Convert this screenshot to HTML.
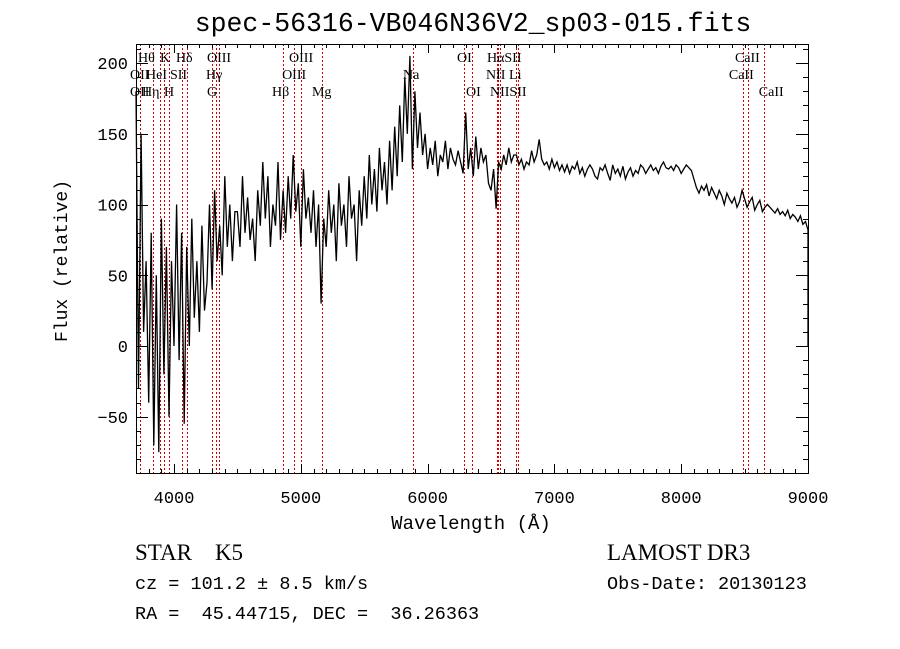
<!DOCTYPE html>
<html><head><meta charset="utf-8"><style>
body{margin:0;background:#fff;}
svg{display:block;}
text{fill:#000;white-space:pre;}
.mono{font-family:"Liberation Mono",monospace;}
.serif{font-family:"Liberation Serif",serif;}
</style></head><body>
<svg id="chart" width="900" height="649" viewBox="0 0 900 649" xmlns="http://www.w3.org/2000/svg">
<rect x="0" y="0" width="900" height="649" fill="#fff"/>
<text class="mono" x="473" y="31" font-size="26.5" text-anchor="middle">spec-56316-VB046N36V2_sp03-015.fits</text>
<g id="lines"></g>
<g id="labels"></g>
<g id="series"></g>
<g id="axes"></g>
<text class="mono" x="471" y="529" font-size="19" text-anchor="middle">Wavelength (Å)</text>
<text class="mono" x="0" y="0" font-size="18" text-anchor="middle" transform="translate(67,261) rotate(-90)">Flux (relative)</text>
<text class="serif" x="135" y="560" font-size="23">STAR    K5</text>
<text class="serif" x="607" y="560" font-size="23">LAMOST DR3</text>
<text class="mono" x="135" y="589" font-size="18.5">cz = 101.2 ± 8.5 km/s</text>
<text class="mono" x="607" y="589" font-size="18.5">Obs-Date: 20130123</text>
<text class="mono" x="135" y="619" font-size="18.5">RA =  45.44715, DEC =  36.26363</text>
</svg>
<script>
const xTicks=[4000,5000,6000,7000,8000,9000];
const yTicks=[-50,0,50,100,150,200];
const waveStart=3700, waveStep=20;
const flux=[
180,-30,150,10,60,-40,80,-70,50,-75,
90,-20,70,-50,60,0,100,-10,80,-55,
70,0,90,20,60,10,85,25,45,100,
40,110,60,85,50,120,70,100,60,95,
95,70,120,80,105,75,90,60,110,85,
130,90,120,70,100,85,130,75,110,80,
120,90,135,95,115,70,125,90,105,80,
110,70,100,30,90,70,110,80,100,60,
115,85,100,70,120,90,100,60,110,85,
120,90,135,100,125,95,140,110,130,100,
145,110,155,120,170,130,190,150,205,125,
180,140,165,135,150,125,140,128,145,120,
135,130,145,125,140,132,128,138,130,122,
165,125,140,120,148,125,140,130,135,115,
110,125,97,130,125,135,128,140,130,135,
135,128,132,125,130,128,138,130,135,146,
132,128,130,125,132,126,130,124,128,123,
128,122,127,125,130,122,126,120,125,128,
125,120,118,126,124,128,122,117,128,122,
125,120,127,118,123,126,120,124,122,128,
126,122,125,128,124,126,122,127,130,126,
125,127,124,128,126,122,125,128,126,124,
118,112,108,113,110,114,106,112,108,104,
110,106,100,108,104,101,105,98,102,110,
104,98,102,105,96,100,103,95,98,100,
98,96,94,97,93,95,92,96,90,93,
91,88,92,86,88,82];
const lineWaves=[3732,3832,3889,3921,3960,4063,4100,4297,4331,4357,4857,4948,4999,5169,5887,6289,6352,6545,6559,6571,6697,6710,8490,8530,8655];
const labelNames=["Hθ","K","Hδ","OIII","OIII","OI","HαSII","CaII","OII","HeI","SII","Hγ","OIII","Na","NII","Li","CaII","OII","Hη","H","G","Hβ","Mg","OI","NIISII","CaII"];
const labelWaves=[3716,3889,4015,4260,4907,6232,6468,8424,3653,3779,3968,4252,4852,5806,6460,6642,8376,3653,3747,3921,4260,4773,5088,6303,6492,8612];
const labelRows=[0,0,0,0,0,0,0,0,1,1,1,1,1,1,1,1,1,2,2,2,2,2,2,2,2,2];

const X0=136,X1=808,Y0=44,Y1=473;
const xs=w=>X0+(w-3700)*(X1-X0)/(9000-3700);
const ys=f=>346-f*1.415;
const NS="http://www.w3.org/2000/svg";
function mk(tag,attrs,parent){const e=document.createElementNS(NS,tag);for(const k in attrs)e.setAttribute(k,attrs[k]);parent.appendChild(e);return e;}
const gL=document.getElementById('lines'),gLab=document.getElementById('labels'),gS=document.getElementById('series'),gA=document.getElementById('axes');

lineWaves.forEach(w=>{
  const x=Math.round(xs(w))+0.5;
  const l=mk('line',{x1:x,x2:x,y1:Y0,y2:Y1,stroke:'#cc0000','stroke-width':1,'stroke-dasharray':'2,2','shape-rendering':'crispEdges'},gL);
  
  
});
const rowY=[62,79,96];
labelNames.forEach((n,i)=>{
  const t=mk('text',{x:xs(labelWaves[i]),y:rowY[labelRows[i]],'font-size':14,'class':'serif'},gLab);
  t.textContent=n;
  
  
});

let d='';
flux.forEach((f,i)=>{const w=waveStart+i*waveStep;d+=(i?'L':'M')+xs(w).toFixed(1)+','+ys(f).toFixed(1)+' ';});
d+='L'+xs(9000).toFixed(1)+','+ys(0).toFixed(1);
const p=mk('path',{d:d,fill:'none',stroke:'#000','stroke-width':1.3,'stroke-linejoin':'miter'},gS);



const frame=mk('rect',{x:X0+0.5,y:Y0+0.5,width:X1-X0,height:Y1-Y0,fill:'none',stroke:'#000','stroke-width':1,'shape-rendering':'crispEdges'},gA);


let td='';
for(let w=3700;w<=9000;w+=100){const x=Math.round(xs(w))+0.5;const L=(w%1000===0)?9:4;td+=`M${x},${Y1}v${-L}M${x},${Y0}v${L}`;}
for(let f=-90;f<=210;f+=10){const y=Math.round(ys(f))+0.5;const L=(f%50===0)?12:5;td+=`M${X0},${y}h${L}M${X1},${y}h${-L}`;}
const tk=mk('path',{d:td,stroke:'#000','stroke-width':1,fill:'none','shape-rendering':'crispEdges'},gA);


xTicks.forEach(w=>{
  const t=mk('text',{x:xs(w),y:503,'font-size':17,'text-anchor':'middle','class':'mono'},gA);
  t.textContent=w;
  
  
});
yTicks.forEach(f=>{
  const t=mk('text',{x:128,y:ys(f)+6,'font-size':17,'text-anchor':'end','class':'mono'},gA);
  t.textContent=f<0?'−'+(-f):f;
  
  
});
</script>
</body></html>
